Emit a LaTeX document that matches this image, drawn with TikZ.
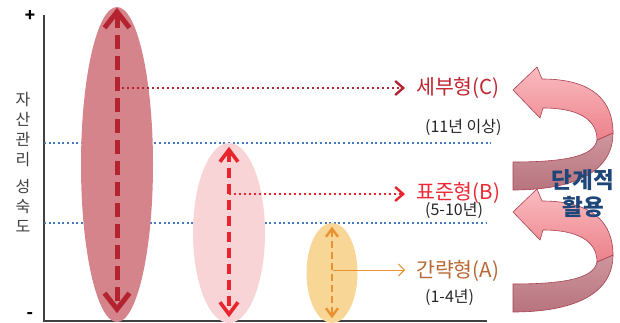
\documentclass[tikz,border=0pt]{standalone}
\usepackage{fontspec}
\setmainfont{Noto Sans CJK KR}
\usetikzlibrary{arrows.meta,shapes.geometric}
\definecolor{axisgray}{RGB}{64,64,64}
\definecolor{ellA}{RGB}{214,132,140}
\definecolor{ellB}{RGB}{249,212,215}
\definecolor{ellC}{RGB}{247,214,150}
\definecolor{darkred}{RGB}{180,36,48}
\definecolor{brightred}{RGB}{232,36,44}
\definecolor{orangeA}{RGB}{233,146,50}
\definecolor{textA}{RGB}{184,104,52}
\definecolor{textC}{RGB}{192,38,48}
\definecolor{textB}{RGB}{236,40,50}
\definecolor{bluedot}{RGB}{70,120,190}
\definecolor{navy}{RGB}{31,70,120}
\definecolor{frontTop}{RGB}{250,188,192}
\definecolor{frontBot}{RGB}{236,128,138}
\definecolor{backTop}{RGB}{206,150,158}
\definecolor{backBot}{RGB}{184,116,126}
\definecolor{curlEdge}{RGB}{168,66,80}
\tikzset{
  axisline/.style={draw=axisgray,line width=1.5pt},
  blueline/.style={draw=bluedot,line width=2pt,dash pattern=on 2pt off 2.6pt},
  ellbox/.style={ellipse,inner sep=0pt,draw=none},
  bigarrow/.style={line width=5pt,dash pattern=on 14pt off 7pt,darkred,
    {Straight Barb[length=16pt,width=25pt]}-{Straight Barb[length=16pt,width=25pt]}},
  midarrow/.style={line width=3.6pt,dash pattern=on 10pt off 6pt,brightred,
    {Straight Barb[length=12pt,width=18pt]}-{Straight Barb[length=12pt,width=18pt]}},
  smallarrow/.style={line width=2.4pt,dash pattern=on 7pt off 4pt,orangeA,
    {Straight Barb[length=8pt,width=12pt]}-{Straight Barb[length=8pt,width=12pt]}},
  dotarrow/.style={line width=2.4pt,dash pattern=on 2.4pt off 2.6pt,
    -{Straight Barb[length=8pt,width=14pt]}},
  thinarrow/.style={line width=1pt,orangeA,-{Straight Barb[length=6pt,width=12pt]}},
  typelabel/.style={anchor=west,inner sep=0pt,font=\fontsize{20.5}{23}\selectfont},
  yearlabel/.style={anchor=west,inner sep=0pt,text=black!85,font=\fontsize{16}{18}\selectfont},
  curlfront/.style={draw=curlEdge,line width=0.6pt,top color=frontTop,bottom color=frontBot},
  curlback/.style={draw=curlEdge,line width=0.6pt,top color=backTop,bottom color=backBot},
}
\newcommand{\curlarrow}[1]{%
  \begin{scope}[yshift=#1]
    \path[curlback] (513,162) -- (513,190) .. controls (574,190) and (613,172) .. (613,133)
      -- (597,140) .. controls (594,156) and (566,162) .. (513,162) -- cycle;
    \path[curlfront] (597,140) .. controls (597,118) and (576,108) .. (543,108)
      -- (540,118) -- (513,90) -- (537,67) -- (542,79)
      .. controls (592,79) and (613,100) .. (613,133) -- cycle;
  \end{scope}}
\begin{document}
\begin{tikzpicture}[x=1pt,y=-1pt]
\useasboundingbox (0,0) rectangle (620,323);
% axes
\draw[axisline] (44,15) -- (44,321) -- (487,321);
\node[font=\fontsize{17}{17}\selectfont\bfseries,text=black] (plus) at (30,16) {+};
\node[font=\fontsize{17}{17}\selectfont\bfseries,text=black] (minus) at (30,316) {-};
\node[align=center,text=axisgray,inner sep=0pt,font=\fontsize{16}{20}\selectfont] (ylab) at (23,162)
  {자\\산\\관\\리\\[7pt]성\\숙\\도};
% blue dotted level lines
\draw[blueline] (44,143) -- (491,143);
\draw[blueline] (44,223) -- (486,223);
% ellipses
\node[ellbox,fill=ellA,minimum width=72pt,minimum height=315pt] (e1) at (117,164.5) {};
\node[ellbox,fill=ellB,minimum width=72pt,minimum height=180pt] (e2) at (229,233) {};
\node[ellbox,fill=ellC,minimum width=51pt,minimum height=100pt] (e3) at (332,273) {};
% vertical dashed arrows
\draw[bigarrow,shorten <=1pt,shorten >=9pt] (e1.north) -- (e1.south);
\draw[midarrow,shorten <=4pt,shorten >=6pt] (e2.north) -- (e2.south);
\draw[smallarrow,shorten <=4pt,shorten >=5pt] (e3.north) -- (e3.south);
% labels
\node[typelabel,text=textC] (tC) at (416,88) {세부형(C)};
\node[yearlabel] (yC) at (425,127) {(11년 이상)};
\node[typelabel,text=textB] (tB) at (416,193) {표준형(B)};
\node[yearlabel] (yB) at (425,210) {(5-10년)};
\node[typelabel,text=textA] (tA) at (416,271) {간략형(A)};
\node[yearlabel] (yA) at (425,297) {(1-4년)};
% horizontal connectors
\coordinate (sC) at (117,88);
\coordinate (sB) at (229,194);
\coordinate (sA) at (333,270);
\draw[dotarrow,darkred,shorten >=11pt] (sC) -- (sC -| tC.west);
\draw[dotarrow,brightred,shorten >=11pt] (sB) -- (sB -| tB.west);
\draw[thinarrow,shorten >=11pt] (sA) -- (sA -| tA.west);
% curled arrows
\curlarrow{0pt}
\curlarrow{-122pt}
\node[text=navy,align=center,inner sep=0pt,font=\fontsize{22.5}{27}\selectfont\bfseries] (step) at (583,194) {단계적\\활용};
\end{tikzpicture}
\end{document}
